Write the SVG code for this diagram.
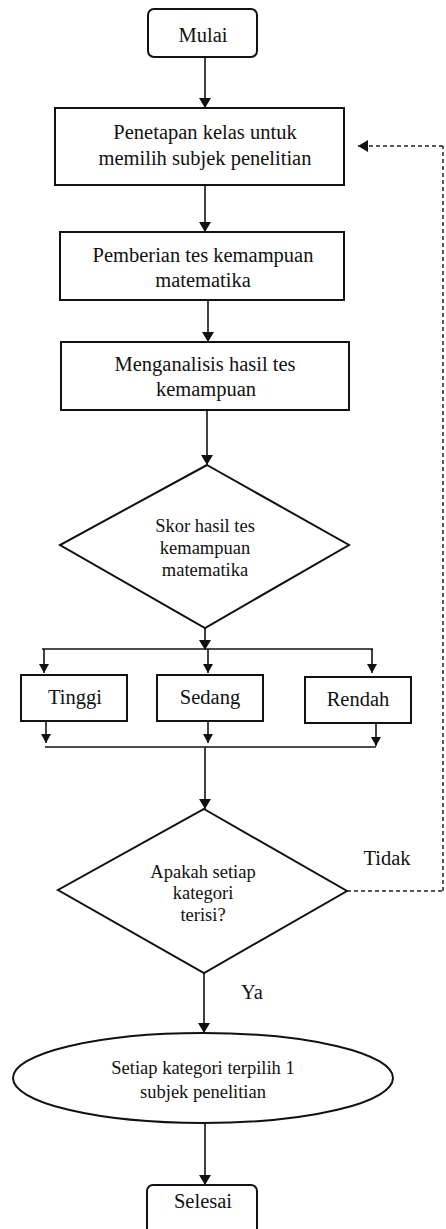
<svg xmlns="http://www.w3.org/2000/svg" width="446" height="1229" viewBox="0 0 446 1229">
<defs>
<marker id="ah" markerWidth="10" markerHeight="12" refX="10" refY="6" orient="auto" markerUnits="userSpaceOnUse">
<path d="M0,0 L10,6 L0,12 Z" fill="#111"/>
</marker>
<marker id="ahs" markerWidth="9" markerHeight="10" refX="9" refY="5" orient="auto" markerUnits="userSpaceOnUse">
<path d="M0,0 L9,5 L0,10 Z" fill="#111"/>
</marker>
<style>
.box{fill:#fff;stroke:#111;stroke-width:2}
text{font-family:'Liberation Serif','Times New Roman',serif}
.t{fill:#111;text-anchor:middle}
.b{font-size:20.5px}
.d{font-size:18.5px}
.c{stroke:#111;stroke-width:1.6;fill:none}
.dash{stroke:#222;stroke-width:1.5;fill:none;stroke-dasharray:4 3}
</style>
</defs>
<rect width="446" height="1229" fill="#fff"/>
<g id="connectors">
<line class="c" x1="205" y1="57" x2="205" y2="108" marker-end="url(#ah)"/>
<line class="c" x1="205" y1="185" x2="205" y2="232" marker-end="url(#ah)"/>
<line class="c" x1="208" y1="300" x2="208" y2="342" stroke-width="1.1" marker-end="url(#ah)"/>
<line class="c" x1="207" y1="410" x2="207" y2="465" stroke-width="2" marker-end="url(#ah)"/>
<line class="c" x1="205" y1="628" x2="205" y2="650" marker-end="url(#ah)"/>
<line class="c" x1="42" y1="649" x2="373" y2="649"/>
<line class="c" x1="44" y1="649" x2="44" y2="673" marker-end="url(#ahs)"/>
<line class="c" x1="208" y1="649" x2="208" y2="673" marker-end="url(#ahs)"/>
<line class="c" x1="372" y1="649" x2="372" y2="673" marker-end="url(#ahs)"/>
<line class="c" x1="46" y1="721" x2="46" y2="743" marker-end="url(#ahs)"/>
<line class="c" x1="208" y1="721" x2="208" y2="743" marker-end="url(#ahs)"/>
<line class="c" x1="376" y1="723" x2="376" y2="746" marker-end="url(#ahs)"/>
<line class="c" x1="45" y1="747" x2="376" y2="747"/>
<line class="c" x1="205" y1="747" x2="205" y2="809" marker-end="url(#ah)"/>
<line class="c" x1="204" y1="973" x2="204" y2="1033" marker-end="url(#ah)"/>
<line class="c" x1="205" y1="1123" x2="205" y2="1185" marker-end="url(#ah)"/>
<polyline class="dash" points="347,891 443,891"/>
<polyline class="dash" points="443,891 443,146" stroke="#c8c8c8" stroke-width="1"/>
<line class="dash" x1="443" y1="146" x2="358" y2="146" marker-end="url(#ah)"/>
</g>
<g id="mulai">
<rect class="box" x="148" y="9" width="109" height="48" rx="6"/>
<text class="t b" x="203" y="42" font-size="21">Mulai</text>
</g>
<g id="penetapan">
<rect class="box" x="55" y="108" width="289" height="77"/>
<text class="t b" x="205" y="139">Penetapan kelas untuk</text>
<text class="t b" x="205" y="165">memilih subjek penelitian</text>
</g>
<g id="pemberian">
<rect class="box" x="60" y="232" width="284" height="68"/>
<text class="t b" x="203" y="262">Pemberian tes kemampuan</text>
<text class="t b" x="203" y="287">matematika</text>
</g>
<g id="menganalisis">
<rect class="box" x="61" y="342" width="288" height="68"/>
<text class="t b" x="205" y="371">Menganalisis hasil tes</text>
<text class="t b" x="206" y="396">kemampuan</text>
</g>
<g id="skor">
<polygon class="box" points="207,465 349,545 205,628 60,545"/>
<text class="t d" x="205" y="532">Skor hasil tes</text>
<text class="t d" x="205" y="554">kemampuan</text>
<text class="t d" x="205" y="576">matematika</text>
</g>
<g id="tinggi">
<rect class="box" x="21" y="675" width="106" height="46"/>
<text class="t b" x="75" y="704">Tinggi</text>
</g>
<g id="sedang">
<rect class="box" x="157" y="675" width="106" height="46"/>
<text class="t b" x="210" y="704">Sedang</text>
</g>
<g id="rendah">
<rect class="box" x="305" y="677" width="106" height="46" stroke-width="2.6"/>
<text class="t b" x="358" y="706">Rendah</text>
</g>
<g id="apakah">
<polygon class="box" points="204,809 347,891 204,973 58,890"/>
<text class="t d" x="203" y="878">Apakah setiap</text>
<text class="t d" x="203" y="899">kategori</text>
<text class="t d" x="203" y="921">terisi?</text>
</g>
<g id="label-tidak">
<text class="t b" x="387" y="865">Tidak</text>
</g>
<g id="label-ya">
<text class="t b" x="252" y="999">Ya</text>
</g>
<g id="setiap">
<ellipse class="box" cx="203" cy="1078" rx="190" ry="45"/>
<text class="t d" x="203" y="1074" font-size="19">Setiap kategori terpilih 1</text>
<text class="t d" x="203" y="1098" font-size="19">subjek penelitian</text>
</g>
<g id="selesai">
<rect class="box" x="147" y="1185" width="110" height="55" rx="6"/>
<text class="t b" x="203" y="1208" font-size="21">Selesai</text>
</g>
</svg>
